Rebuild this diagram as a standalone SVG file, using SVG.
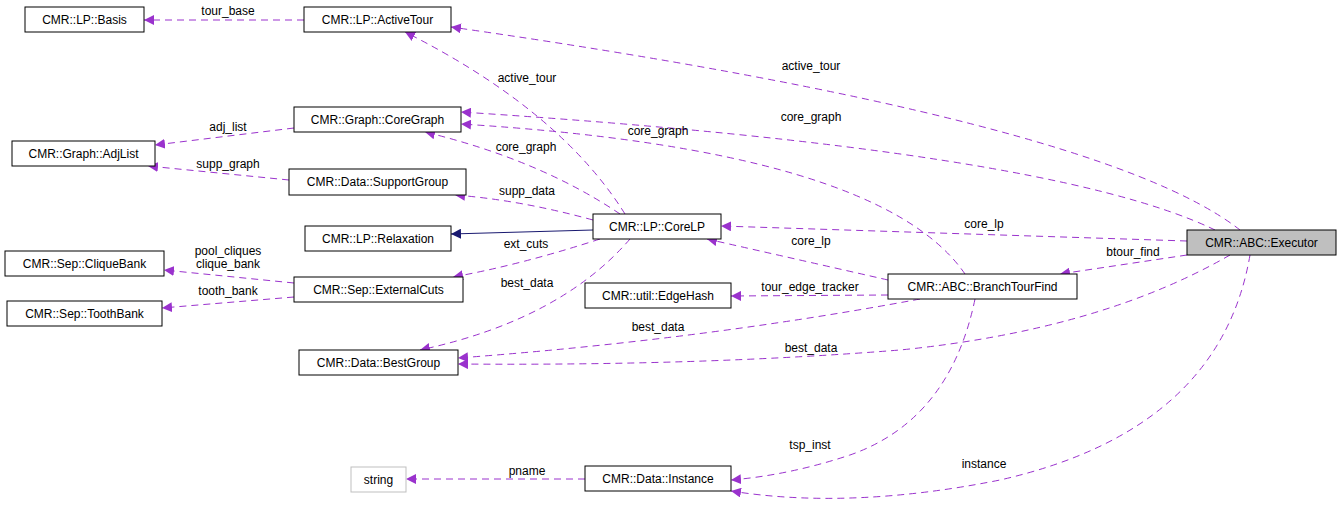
<svg xmlns="http://www.w3.org/2000/svg" width="1341" height="510" viewBox="0 0 1341 510">
<style>
text{font-family:"Liberation Sans",Arial,sans-serif;font-size:12px;fill:#000}
.n rect{fill:#fff;stroke:#000;stroke-width:1}
.n text{text-anchor:middle}
.e{fill:none;stroke:#9a32cd;stroke-width:1;stroke-dasharray:7,5}
.s{fill:none;stroke:#191970;stroke-width:1}
.l{text-anchor:middle}
</style>
<defs>
<marker id="a" viewBox="0 0 10 10" refX="10" refY="5" markerWidth="10" markerHeight="10" markerUnits="userSpaceOnUse" orient="auto"><path d="M0,0L10,5L0,10z" fill="#9a32cd"/></marker>
<marker id="b" viewBox="0 0 10 10" refX="10" refY="5" markerWidth="10" markerHeight="10" markerUnits="userSpaceOnUse" orient="auto"><path d="M0,0L10,5L0,10z" fill="#191970"/></marker>
</defs>
<rect width="1341" height="510" fill="#fff"/>
<g id="connectors">
<path class="e" marker-end="url(#a)" d="M304,20L144,20"/>
<path class="e" marker-end="url(#a)" d="M1240,230Q1100,120 451,27"/>
<path class="e" marker-end="url(#a)" d="M625,214Q560,110 405,32"/>
<path class="e" marker-end="url(#a)" d="M294,128L155,145"/>
<path class="e" marker-end="url(#a)" d="M289,180L148,166"/>
<path class="e" marker-end="url(#a)" d="M1215,230Q1050,150 461,112"/>
<path class="e" marker-end="url(#a)" d="M965,274Q880,150 461,124"/>
<path class="e" marker-end="url(#a)" d="M620,214Q540,160 425,132"/>
<path class="e" marker-end="url(#a)" d="M593,220Q520,200 455,195"/>
<path class="s" marker-end="url(#b)" d="M593,230L451,234"/>
<path class="e" marker-end="url(#a)" d="M600,239Q520,265 453,277"/>
<path class="e" marker-end="url(#a)" d="M630,239Q560,320 420,350"/>
<path class="e" marker-end="url(#a)" d="M1187,241L721,226"/>
<path class="e" marker-end="url(#a)" d="M888,280Q800,260 707,239"/>
<path class="e" marker-end="url(#a)" d="M1187,255L1060,274"/>
<path class="e" marker-end="url(#a)" d="M294,283L164,270"/>
<path class="e" marker-end="url(#a)" d="M294,297L162,308"/>
<path class="e" marker-end="url(#a)" d="M888,295L731,296"/>
<path class="e" marker-end="url(#a)" d="M920,299Q700,340 458,358"/>
<path class="e" marker-end="url(#a)" d="M1230,255Q1100,330 900,350Q700,366 458,364"/>
<path class="e" marker-end="url(#a)" d="M975,299Q950,420 850,455Q790,475 731,480"/>
<path class="e" marker-end="url(#a)" d="M1250,255Q1220,430 1000,480Q850,510 731,491"/>
<path class="e" marker-end="url(#a)" d="M585,479L406,479"/>
</g>
<g id="labels">
<text class="l" x="228" y="15">tour_base</text>
<text class="l" x="811" y="70">active_tour</text>
<text class="l" x="527" y="82">active_tour</text>
<text class="l" x="228" y="131">adj_list</text>
<text class="l" x="228" y="168">supp_graph</text>
<text class="l" x="811" y="121">core_graph</text>
<text class="l" x="658" y="135">core_graph</text>
<text class="l" x="526" y="151">core_graph</text>
<text class="l" x="527" y="195">supp_data</text>
<text class="l" x="526" y="248">ext_cuts</text>
<text class="l" x="527" y="287">best_data</text>
<text class="l" x="984" y="228">core_lp</text>
<text class="l" x="811" y="245">core_lp</text>
<text class="l" x="1133" y="256">btour_find</text>
<text class="l" x="228" y="255">pool_cliques</text>
<text class="l" x="228" y="268">clique_bank</text>
<text class="l" x="228" y="295">tooth_bank</text>
<text class="l" x="810" y="291">tour_edge_tracker</text>
<text class="l" x="658" y="331">best_data</text>
<text class="l" x="811" y="352">best_data</text>
<text class="l" x="810" y="449">tsp_inst</text>
<text class="l" x="984" y="468">instance</text>
<text class="l" x="527" y="475">pname</text>
</g>
<g id="Basis" class="n"><rect x="25" y="7" width="119" height="25"/><text x="84.5" y="24">CMR::LP::Basis</text></g>
<g id="ActiveTour" class="n"><rect x="304" y="7" width="147" height="25"/><text x="377.5" y="24">CMR::LP::ActiveTour</text></g>
<g id="CoreGraph" class="n"><rect x="294" y="107" width="167" height="25"/><text x="377.5" y="124">CMR::Graph::CoreGraph</text></g>
<g id="AdjList" class="n"><rect x="12" y="141" width="143" height="25"/><text x="83.5" y="158">CMR::Graph::AdjList</text></g>
<g id="SupportGroup" class="n"><rect x="289" y="169" width="177" height="26"/><text x="377.5" y="186">CMR::Data::SupportGroup</text></g>
<g id="Relaxation" class="n"><rect x="305" y="226" width="146" height="25"/><text x="378" y="243">CMR::LP::Relaxation</text></g>
<g id="CoreLP" class="n"><rect x="593" y="214" width="128" height="25"/><text x="657" y="231">CMR::LP::CoreLP</text></g>
<g id="CliqueBank" class="n"><rect x="5" y="251" width="159" height="25"/><text x="84.5" y="268">CMR::Sep::CliqueBank</text></g>
<g id="ExternalCuts" class="n"><rect x="294" y="277" width="169" height="25"/><text x="378.5" y="294">CMR::Sep::ExternalCuts</text></g>
<g id="ToothBank" class="n"><rect x="7" y="301" width="155" height="25"/><text x="84.5" y="318">CMR::Sep::ToothBank</text></g>
<g id="EdgeHash" class="n"><rect x="585" y="283" width="146" height="25"/><text x="658" y="300">CMR::util::EdgeHash</text></g>
<g id="BestGroup" class="n"><rect x="299" y="350" width="159" height="25"/><text x="378.5" y="367">CMR::Data::BestGroup</text></g>
<g id="BranchTourFind" class="n"><rect x="888" y="274" width="189" height="25"/><text x="982.5" y="291">CMR::ABC::BranchTourFind</text></g>
<g id="Executor" class="n"><rect x="1187" y="230" width="149" height="25" style="fill:#bfbfbf"/><text x="1261.5" y="247">CMR::ABC::Executor</text></g>
<g id="string" class="n"><rect x="351" y="467" width="55" height="25" style="stroke:#bfbfbf"/><text x="378.5" y="484">string</text></g>
<g id="Instance" class="n"><rect x="585" y="466" width="146" height="25"/><text x="658" y="483">CMR::Data::Instance</text></g>
</svg>
